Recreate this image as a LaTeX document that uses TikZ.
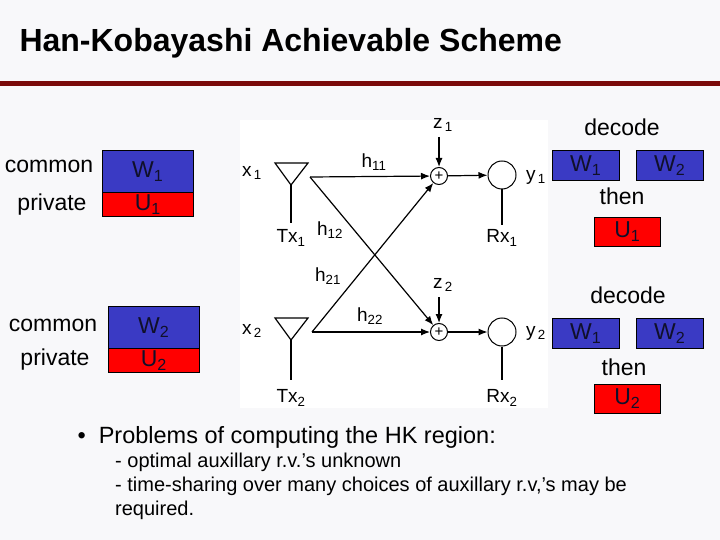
\documentclass[tikz,border=0pt]{standalone}
\usepackage{fontspec}
\setmainfont{Liberation Sans}
\usetikzlibrary{arrows.meta}
\definecolor{bgc}{HTML}{F8F8FA}
\definecolor{boxblue}{HTML}{3A3AC4}
\definecolor{boxred}{HTML}{FF0000}
\definecolor{boxtext}{HTML}{10102A}
\definecolor{dr}{HTML}{7A0A0A}
\newcommand{\sbx}[1]{\textsubscript{#1}}
\tikzset{
 txt/.style={font=\fontsize{23}{26}\selectfont},
 lab/.style={font=\fontsize{19}{22}\selectfont,inner sep=0},
 bx/.style={draw=black,line width=0.6pt,inner sep=0},
 bt/.style={font=\fontsize{23}{26}\selectfont,text=boxtext,inner sep=0},
 sig/.style={line width=1.2pt,-{Latex[length=9pt,width=7pt]}},
 ln/.style={line width=1.2pt}
}
\begin{document}
\begin{tikzpicture}[x=1pt,y=-1pt]
\fill[bgc] (0,0) rectangle (720,540);
\useasboundingbox (0,0) rectangle (720,540);
\node[anchor=west,font=\bfseries\fontsize{32}{34}\selectfont] (title) at (16,43) {Han-Kobayashi Achievable Scheme};
\fill[dr] (0,81) rectangle (720,86);
\fill[white] (240,120) rectangle (548,408);
% left boxes
\node[bx,fill=boxblue,minimum width=91,minimum height=42,anchor=north west] (w1) at (102,150) {};
\node[bx,fill=boxred,minimum width=91,minimum height=24,anchor=north west] (u1) at (102,192) {};
\node[bt] at (w1) {W\sbx{1}};
\node[bt] at (u1) {U\sbx{1}};
\node[txt] (c1) at (49,166) {common};
\node[txt] (p1) at (52,205) {private};
\node[bx,fill=boxblue,minimum width=91,minimum height=42,anchor=north west] (w2) at (108,306) {};
\node[bx,fill=boxred,minimum width=91,minimum height=24,anchor=north west] (u2) at (108,348) {};
\node[bt] at (w2) {W\sbx{2}};
\node[bt] at (u2) {U\sbx{2}};
\node[txt] (c2) at (53,325) {common};
\node[txt] (p2) at (55,360) {private};
% antennas
\draw[ln] (275,163) -- (308,163) -- (291,185) -- cycle;
\draw[ln] (291,185) -- (291,223);
\draw[ln] (275,318) -- (308,318) -- (291,340) -- cycle;
\draw[ln] (291,340) -- (291,380);
\coordinate (t1) at (310,177);
\coordinate (t2) at (312,332);
\node[draw,circle,line width=1pt,minimum size=17,inner sep=0,font=\fontsize{15}{15}\selectfont] (s1) at (439,176) {+};
\node[draw,circle,line width=1pt,minimum size=17,inner sep=0,font=\fontsize{15}{15}\selectfont] (s2) at (439,332) {+};
\node[draw,circle,line width=1pt,minimum size=28,inner sep=0] (r1) at (502,175) {};
\node[draw,circle,line width=1pt,minimum size=28,inner sep=0] (r2) at (502,332) {};
\draw[ln] (r1.south) -- (502,225);
\draw[ln] (r2.south) -- (502,380);
\draw[sig] (t1) -- (s1);
\draw[sig] (t1) -- (s2);
\draw[sig] (t2) -- (s2);
\draw[sig] (t2) -- (s1);
\draw[sig] (s1) -- (r1);
\draw[sig] (s2) -- (r2);
\node[lab] (z1) at (443,125) {z\sbx{\,1}};
\node[lab] (z2) at (443,285) {z\sbx{\,2}};
\draw[sig] (439,137) -- (s1);
\draw[sig] (439,297) -- (s2);
\node[lab] (x1) at (252,173) {x\sbx{\,1}};
\node[lab] (x2) at (252,331) {x\sbx{\,2}};
\node[lab] (y1) at (536,177) {y\sbx{\,1}};
\node[lab] (y2) at (536,333) {y\sbx{\,2}};
\node[lab] (tx1) at (291,238) {Tx\sbx{1}};
\node[lab] (tx2) at (291,398) {Tx\sbx{2}};
\node[lab] (rx1) at (502,238) {Rx\sbx{1}};
\node[lab] (rx2) at (502,398) {Rx\sbx{2}};
\node[lab] (h11) at (374,162) {h\sbx{11}};
\node[lab] (h12) at (330,230) {h\sbx{12}};
\node[lab] (h21) at (328,276) {h\sbx{21}};
\node[lab] (h22) at (370,316) {h\sbx{22}};
% right
\node[txt] (d1) at (622,127) {decode};
\node[bx,fill=boxblue,minimum width=67,minimum height=30,anchor=north west] (a1) at (552,150) {};
\node[bx,fill=boxblue,minimum width=67,minimum height=30,anchor=north west] (b1) at (636,150) {};
\node[bt] at (a1) {W\sbx{1}};
\node[bt] at (b1) {W\sbx{2}};
\node[txt] (th1) at (622,196) {then};
\node[bx,fill=boxred,minimum width=66,minimum height=29,anchor=north west] (e1) at (594,217) {};
\node[bt] at (e1) {U\sbx{1}};
\node[txt] (d2) at (628,295) {decode};
\node[bx,fill=boxblue,minimum width=67,minimum height=30,anchor=north west] (a2) at (552,318) {};
\node[bx,fill=boxblue,minimum width=67,minimum height=30,anchor=north west] (b2) at (636,318) {};
\node[bt] at (a2) {W\sbx{1}};
\node[bt] at (b2) {W\sbx{2}};
\node[txt] (th2) at (624,367) {then};
\node[bx,fill=boxred,minimum width=66,minimum height=29,anchor=north west] (e2) at (594,384) {};
\node[bt] at (e2) {U\sbx{2}};
% bullets
\node[anchor=west,font=\fontsize{23.5}{26}\selectfont] (bul) at (74,437) {\textbullet\ \ Problems of computing the HK region:};
\node[anchor=north west,align=left,font=\fontsize{20}{24}\selectfont,inner sep=0] (sub) at (115,453) {- optimal auxillary r.v.’s unknown\\- time-sharing over many choices of auxillary r.v,’s may be\\required.};
\end{tikzpicture}
\end{document}
